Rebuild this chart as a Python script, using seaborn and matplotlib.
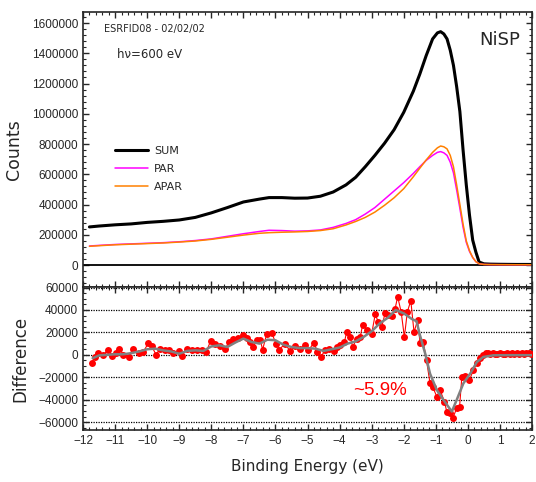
import numpy as np
import pandas as pd
import seaborn as sns
import matplotlib
matplotlib.use("Agg")
import matplotlib.pyplot as plt
from matplotlib.ticker import MultipleLocator, AutoMinorLocator, FuncFormatter

# --- data ---
energy = [-11.8, -11.5, -11.0, -10.5, -10.0, -9.5, -9.0, -8.5, -8.0, -7.5, -7.0, -6.5,
          -6.2, -5.8, -5.4, -5.0, -4.6, -4.2, -3.8, -3.5, -3.2, -2.9, -2.6, -2.3, -2.0,
          -1.7, -1.5, -1.3, -1.1, -0.95, -0.85, -0.75, -0.65, -0.55, -0.45, -0.35, -0.25,
          -0.15, -0.05, 0.05, 0.15, 0.25, 0.35, 0.5, 0.7, 1.0, 1.5, 2.0]
sum_counts = [252000, 258000, 266000, 272000, 282000, 289000, 298000, 315000, 345000,
              380000, 417000, 436000, 446000, 446000, 442000, 443000, 455000, 483000,
              530000, 580000, 650000, 725000, 805000, 895000, 1010000, 1150000, 1262000,
              1385000, 1495000, 1535000, 1543000, 1528000, 1495000, 1420000, 1320000,
              1179000, 1015000, 760000, 530000, 330000, 165000, 85000, 20000, 8000, 6000,
              5000, 4000, 4000]
par_counts = [126000, 130000, 136000, 140000, 144000, 148000, 154000, 162000, 173000,
              190000, 207000, 222000, 230000, 228000, 224000, 226000, 232000, 249000,
              275000, 300000, 337000, 380000, 435000, 490000, 545000, 606000, 650000,
              692000, 725000, 745000, 750000, 742000, 725000, 680000, 610000, 496000,
              375000, 250000, 150000, 90000, 50000, 22000, 9000, 4000, 3000, 2500, 2000, 2000]
apar_counts = [124000, 128000, 134000, 138000, 142000, 146000, 152000, 159000, 170000,
               184000, 198000, 210000, 214000, 217000, 219000, 222000, 228000, 240000,
               265000, 288000, 315000, 350000, 395000, 445000, 505000, 584000, 640000,
               695000, 745000, 775000, 787000, 782000, 768000, 725000, 650000, 529000,
               400000, 270000, 160000, 95000, 50000, 22000, 9000, 4000, 3000, 2500, 2000, 2000]

diff_x = [-11.73, -11.63, -11.52, -11.37, -11.21, -11.10, -10.98, -10.88, -10.74, -10.58,
          -10.43, -10.27, -10.12, -9.96, -9.86, -9.72, -9.60, -9.44, -9.31, -9.18, -9.02,
          -8.92, -8.76, -8.60, -8.45, -8.29, -8.16, -8.02, -7.88, -7.73, -7.57, -7.44,
          -7.31, -7.16, -7.00, -6.90, -6.80, -6.69, -6.59, -6.48, -6.40, -6.27, -6.12,
          -5.98, -5.88, -5.70, -5.55, -5.39, -5.23, -5.08, -4.97, -4.80, -4.69, -4.59,
          -4.45, -4.32, -4.19, -4.09, -3.99, -3.85, -3.78, -3.67, -3.59, -3.47, -3.36,
          -3.28, -3.15, -3.00, -2.89, -2.79, -2.69, -2.58, -2.48, -2.37, -2.27, -2.19,
          -2.08, -1.98, -1.89, -1.78, -1.68, -1.57, -1.49, -1.39, -1.29, -1.18, -1.10,
          -0.97, -0.87, -0.73, -0.66, -0.56, -0.47, -0.35, -0.26, -0.19, -0.09, 0.05,
          0.17, 0.28, 0.38, 0.48, 0.55, 0.62, 0.70, 0.78, 0.85, 0.92, 1.00, 1.08, 1.15,
          1.22, 1.30, 1.38, 1.45, 1.52, 1.60, 1.68, 1.75, 1.82, 1.90, 1.97]
diff_y = [-7700, -1800, 1200, 0, 4700, -1200, 1200, 5600, 300, -1800, 5600, 1200, 2700,
          10600, 7700, 0, 5600, 4100, 4700, 1200, 3200, -900, 5600, 4700, 4700, 4100, 2700,
          12400, 9500, 8000, 5600, 11500, 13900, 15400, 17500, 15400, 11500, 7100, 13000,
          13600, 4700, 18900, 19500, 10000, 4700, 10000, 3500, 7700, 5600, 8600, 4100,
          10800, 2500, -1900, 4000, 5500, 3100, 7000, 9100, 11400, 20300, 15800, 7000,
          14400, 15800, 26800, 22400, 18800, 36000, 29200, 24700, 37200, 35100, 34200,
          41000, 51900, 38100, 15800, 38100, 48400, 20300, 30700, 10500, 11400, -4900,
          -25400, -28400, -37200, -31300, -41700, -50600, -52100, -56500, -47600, -46700,
          -20100, -18900, -22400, -13500, -7600, -3000, 0, 1500, 1200, 800, 1500, 1000,
          600, 1400, 1100, 900, 1600, 700, 1200, 1000, 1300, 800, 1500, 900, 1200, 1400,
          700]

smooth_x = [-11.7, -11.5, -11.25, -11.0, -10.75, -10.5, -10.25, -10.0, -9.75, -9.5, -9.25,
            -9.0, -8.75, -8.5, -8.25, -8.0, -7.75, -7.5, -7.25, -7.0, -6.75, -6.5, -6.25,
            -6.0, -5.75, -5.5, -5.25, -5.0, -4.75, -4.5, -4.25, -4.0, -3.75, -3.5, -3.25,
            -3.0, -2.75, -2.5, -2.25, -2.0, -1.75, -1.6, -1.5, -1.33, -1.18, -0.97, -0.76,
            -0.5, -0.35, -0.14, 0.07, 0.28, 0.48, 0.8, 1.25, 1.5, 2.0]
smooth_y = [-3000, -500, 0, 500, 500, 1500, 3000, 5000, 5500, 4000, 3000, 1000, 3500, 4000,
            3500, 7500, 8500, 7000, 11000, 14500, 11500, 10000, 13500, 13000, 9000, 7000,
            6000, 6000, 5500, 3500, 5000, 6500, 10000, 12000, 16000, 21000, 28000, 33000,
            40000, 37000, 32000, 30000, 18000, 1000, -16800, -31300, -40200, -50600,
            -40200, -25400, -16800, -6400, -1900, -400, -300, -300, -300]

xticks = list(range(-12, 3))
counts_ticks = list(range(0, 1600001, 200000))
diff_ticks = list(range(-60000, 60001, 20000))

spectra = pd.DataFrame({"energy": energy, "SUM": sum_counts, "PAR": par_counts, "APAR": apar_counts})
diff = pd.DataFrame({"energy": diff_x, "diff": diff_y})
smooth = pd.DataFrame({"energy": smooth_x, "diff": smooth_y})

sns.set_style("ticks")
plt.rcParams["font.family"] = ["Liberation Sans", "DejaVu Sans"]
plt.rcParams["axes.linewidth"] = 1.2

W, H = 536, 482
fig = plt.figure(figsize=(W / 100, H / 100), dpi=100)
ax1 = fig.add_axes([0.1549, 0.4046, 0.8377, 0.5705])
ax2 = fig.add_axes([0.1549, 0.1079, 0.8377, 0.2967])

# top panel: spectra
sns.lineplot(data=spectra, x="energy", y="SUM", ax=ax1, color="black", lw=2.2, label="SUM")
sns.lineplot(data=spectra, x="energy", y="PAR", ax=ax1, color="#ff00ff", lw=1.1, label="PAR")
sns.lineplot(data=spectra, x="energy", y="APAR", ax=ax1, color="#ff8000", lw=1.1, label="APAR")
ax1.axhline(0, color="black", lw=1.3, zorder=1)
ax1.set_xlim(-12, 2)
ax1.set_ylim(-145000, 1673000)
ax1.set_yticks(counts_ticks)
ax1.yaxis.set_major_formatter(FuncFormatter(lambda v, p: f"{int(v)}"))
ax1.yaxis.set_minor_locator(AutoMinorLocator(5))
ax1.set_xticks(xticks)
ax1.xaxis.set_minor_locator(MultipleLocator(0.2))
ax1.tick_params(labelbottom=False)
ax1.set_xlabel("")
ax1.set_ylabel("Counts", family="DejaVu Sans", fontsize=12.5, labelpad=6)

leg = ax1.legend(loc="center left", bbox_to_anchor=(0.071, 0.429), frameon=False,
                 fontsize=8, handlelength=3.0, handletextpad=0.5, labelspacing=0.75,
                 borderpad=0, borderaxespad=0)
for t in leg.get_texts():
    t.set_family("DejaVu Sans")

fig.text(104 / W, 1 - 29 / H, "ESRFID08 - 02/02/02", fontsize=7, family="DejaVu Sans",
         va="center", ha="left")
fig.text(117 / W, 1 - 55 / H, "h\u03bd=600 eV", fontsize=8.5, family="DejaVu Sans",
         va="center", ha="left")
fig.text(500 / W, 1 - 40 / H, "NiSP", fontsize=13, family="DejaVu Sans",
         va="center", ha="center")

# bottom panel: difference
sns.lineplot(data=diff, x="energy", y="diff", ax=ax2, color="#ff0000", lw=0.8,
             marker="o", markersize=5, markeredgewidth=0, zorder=3)
sns.lineplot(data=smooth, x="energy", y="diff", ax=ax2, color="#808080", lw=1.8, zorder=4)
ax2.set_xlim(-12, 2)
ax2.set_ylim(-67000, 60500)
ax2.set_yticks(diff_ticks)
ax2.yaxis.set_minor_locator(AutoMinorLocator(4))
ax2.set_xticks(xticks)
ax2.xaxis.set_minor_locator(MultipleLocator(0.2))
ax2.yaxis.grid(True, color="black", linestyle=(0, (1, 1)), lw=0.9)
ax2.set_axisbelow(True)
ax2.set_xlabel("Binding Energy (eV)", family="DejaVu Sans", fontsize=11, labelpad=9)
ax2.set_ylabel("Difference", family="DejaVu Sans", fontsize=12, labelpad=6)
ax2.text(-2.75, -32000, "~5.9%", color="#ff0000", fontsize=13.5, ha="center", va="center")

for ax in (ax1, ax2):
    ax.tick_params(which="both", direction="in", top=True, right=True, labelsize=8.5)
    ax.tick_params(which="major", length=4, width=1)
    ax.tick_params(which="minor", length=2.5, width=0.8)

fig.savefig("out.png", dpi=100)
